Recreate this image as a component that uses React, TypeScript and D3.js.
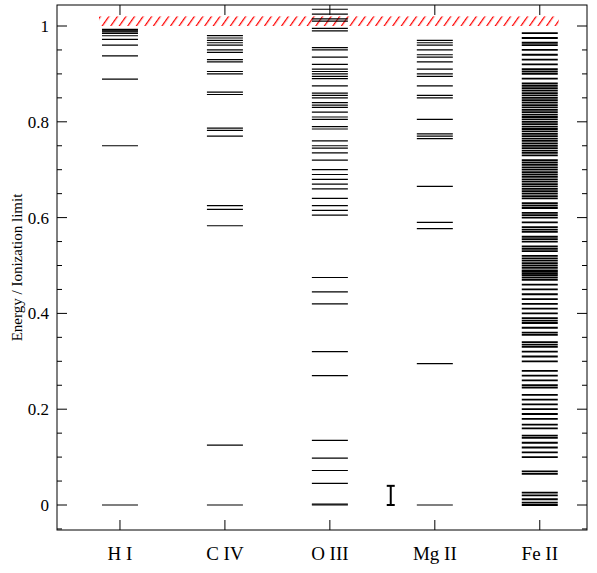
import React from "react";
import * as d3 from "d3";

const categories = ["H I", "C IV", "O III", "Mg II", "Fe II"];
const hI = [0, 0.75, 0.8889, 0.9375, 0.96, 0.9722, 0.9796, 0.9844, 0.9877, 0.99, 0.9917, 0.993];
const cIV = [0, 0.125, 0.583, 0.617, 0.625, 0.77, 0.782, 0.787, 0.857, 0.862, 0.9, 0.905, 0.925, 0.93, 0.945, 0.95, 0.96, 0.965, 0.97, 0.975, 0.98];
const oIII = [0, 0.002, 0.045, 0.072, 0.098, 0.135, 0.27, 0.32, 0.42, 0.445, 0.475, 0.605, 0.615, 0.625, 0.64, 0.66, 0.67, 0.68, 0.69, 0.7, 0.72, 0.735, 0.745, 0.75, 0.76, 0.785, 0.79, 0.805, 0.81, 0.82, 0.83, 0.835, 0.84, 0.85, 0.855, 0.86, 0.875, 0.89, 0.895, 0.9, 0.905, 0.91, 0.92, 0.935, 0.95, 0.955, 0.99, 0.995, 1.01, 1.015, 1.025, 1.035];
const mgII = [0, 0.295, 0.577, 0.59, 0.665, 0.765, 0.77, 0.775, 0.805, 0.85, 0.855, 0.875, 0.895, 0.9, 0.91, 0.925, 0.935, 0.94, 0.95, 0.96, 0.965, 0.97];
const feII = [0, 0.005, 0.012, 0.02, 0.026, 0.065, 0.07, 0.1, 0.11, 0.12, 0.13, 0.14, 0.145, 0.16, 0.168, 0.18, 0.19, 0.2, 0.21, 0.22, 0.23, 0.245, 0.25, 0.26, 0.27, 0.28, 0.3, 0.31, 0.32, 0.33, 0.335, 0.34, 0.355, 0.36, 0.37, 0.38, 0.385, 0.39, 0.4, 0.41, 0.42, 0.43, 0.44, 0.45, 0.46, 0.47, 0.475, 0.48, 0.483, 0.487, 0.49, 0.495, 0.5, 0.505, 0.51, 0.515, 0.52, 0.53, 0.535, 0.54, 0.55, 0.555, 0.56, 0.57, 0.575, 0.58, 0.59, 0.6, 0.605, 0.61, 0.62, 0.625, 0.63, 0.64, 0.645, 0.65, 0.655, 0.66, 0.665, 0.67, 0.675, 0.68, 0.685, 0.69, 0.695, 0.7, 0.705, 0.71, 0.715, 0.72, 0.73, 0.735, 0.74, 0.745, 0.75, 0.755, 0.76, 0.765, 0.77, 0.775, 0.78, 0.785, 0.79, 0.795, 0.8, 0.805, 0.81, 0.815, 0.82, 0.825, 0.83, 0.835, 0.84, 0.845, 0.85, 0.855, 0.86, 0.865, 0.87, 0.875, 0.88, 0.89, 0.9, 0.905, 0.91, 0.92, 0.93, 0.94, 0.95, 0.96, 0.965, 0.975, 0.985];
const series = [hI, cIV, oIII, mgII, feII];
const yTicks = [0, 0.2, 0.4, 0.6, 0.8, 1];
const errorBar = { cat: 2.58, lo: 0.0, hi: 0.04 };

export default function App() {
  const L = 57, R = 587, T = 5, B = 530;
  const x = d3.scaleLinear().domain([-0.6, 4.45]).range([L, R]);
  const y = d3.scaleLinear().domain([0, 1]).range([505, 26]);
  const minor = d3.range(-0.05, 1.05, 0.05);
  const hw = 18;
  const font = "Liberation Serif";
  return (
    <svg width={597} height={573} style={{ position: "absolute", left: 0, top: 0 }}>
      <defs>
        <pattern id="hatch" width="7" height="7" patternUnits="userSpaceOnUse" patternTransform="rotate(35)">
          <rect width="7" height="7" fill="white" />
          <line x1="0" y1="0" x2="0" y2="7" stroke="red" strokeWidth="2.5" />
        </pattern>
      </defs>
      <rect x={x(-0.2)} y={y(1.02)} width={x(4.18) - x(-0.2)} height={y(1) - y(1.02)} fill="url(#hatch)" />
      {series.map((vals, i) =>
        vals.map((v, j) => (
          <line key={i + "-" + j} x1={x(i) - hw} x2={x(i) + hw} y1={y(v)} y2={y(v)} stroke="#000" strokeWidth={i === 4 ? 1.8 : 1.2} />
        ))
      )}
      <g stroke="#000" strokeWidth={2}>
        <line x1={x(errorBar.cat)} x2={x(errorBar.cat)} y1={y(errorBar.lo)} y2={y(errorBar.hi)} />
        <line x1={x(errorBar.cat) - 4} x2={x(errorBar.cat) + 4} y1={y(errorBar.lo)} y2={y(errorBar.lo)} />
        <line x1={x(errorBar.cat) - 4} x2={x(errorBar.cat) + 4} y1={y(errorBar.hi)} y2={y(errorBar.hi)} />
      </g>
      <rect x={L} y={T} width={R - L} height={B - T} fill="none" stroke="#000" strokeWidth={1} />
      {minor.map((m, i) => {
        const major = yTicks.some((t) => Math.abs(t - m) < 1e-6);
        const len = major ? 10 : 5;
        return (
          <g key={i} stroke="#000">
            <line x1={L} x2={L + len} y1={y(m)} y2={y(m)} />
            <line x1={R} x2={R - len} y1={y(m)} y2={y(m)} />
          </g>
        );
      })}
      {yTicks.map((t) => (
        <text key={t} x={L - 8} y={y(t) + 6} textAnchor="end" fontFamily={font} fontSize={17}>{d3.format("~g")(t)}</text>
      ))}
      {categories.map((c, i) => (
        <g key={c}>
          <line x1={x(i)} x2={x(i)} y1={B} y2={B - 10} stroke="#000" />
          <line x1={x(i)} x2={x(i)} y1={T} y2={T + 10} stroke="#000" />
          <text x={x(i)} y={B + 30} textAnchor="middle" fontFamily={font} fontSize={19}>{c}</text>
        </g>
      ))}
      <text transform={`translate(22,${(T + B) / 2}) rotate(-90)`} textAnchor="middle" fontFamily={font} fontSize={15}>Energy / Ionization limit</text>
    </svg>
  );
}
